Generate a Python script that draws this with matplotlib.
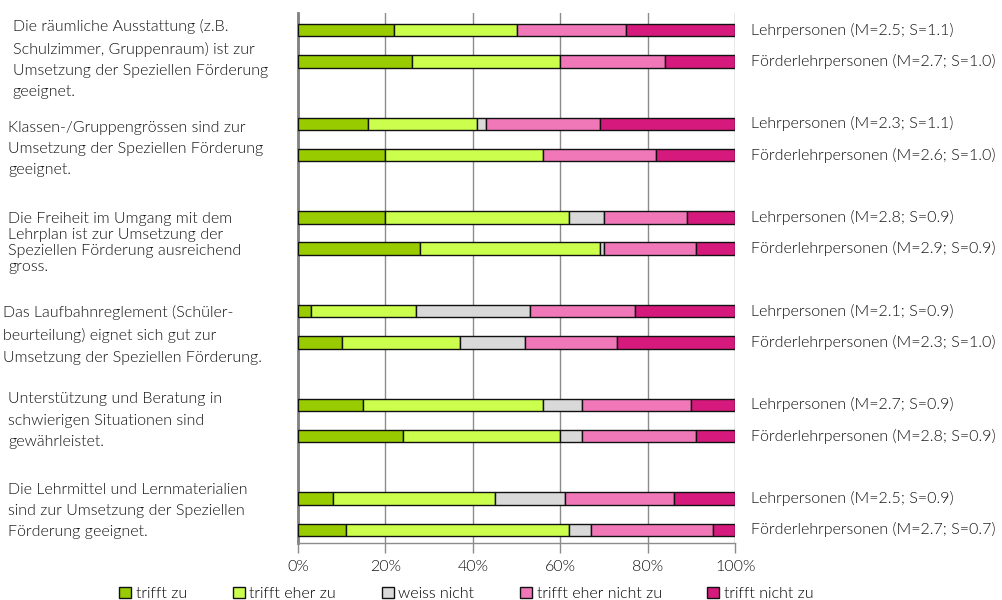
import matplotlib
matplotlib.use("Agg")
import matplotlib.pyplot as plt
from matplotlib.patches import Patch
import numpy as np

plt.rcParams['font.family'] = ['Lato', 'DejaVu Sans']
plt.rcParams['font.weight'] = 300

# Data (percent per answer category)
questions = [
    "Die räumliche Ausstattung (z.B.\nSchulzimmer, Gruppenraum) ist zur\nUmsetzung der Speziellen Förderung\ngeeignet.",
    "Klassen-/Gruppengrössen sind zur\nUmsetzung der Speziellen Förderung\ngeeignet.",
    "Die Freiheit im Umgang mit dem\nLehrplan ist zur Umsetzung der\nSpeziellen Förderung ausreichend\ngross.",
    "Das Laufbahnreglement (Schüler-\nbeurteilung) eignet sich gut zur\nUmsetzung der Speziellen Förderung.",
    "Unterstützung und Beratung in\nschwierigen Situationen sind\ngewährleistet.",
    "Die Lehrmittel und Lernmaterialien\nsind zur Umsetzung der Speziellen\nFörderung geeignet.",
]
row_labels = [
    "Lehrpersonen (M=2.5; S=1.1)", "Förderlehrpersonen (M=2.7; S=1.0)",
    "Lehrpersonen (M=2.3; S=1.1)", "Förderlehrpersonen (M=2.6; S=1.0)",
    "Lehrpersonen (M=2.8; S=0.9)", "Förderlehrpersonen (M=2.9; S=0.9)",
    "Lehrpersonen (M=2.1; S=0.9)", "Förderlehrpersonen (M=2.3; S=1.0)",
    "Lehrpersonen (M=2.7; S=0.9)", "Förderlehrpersonen (M=2.8; S=0.9)",
    "Lehrpersonen (M=2.5; S=0.9)", "Förderlehrpersonen (M=2.7; S=0.7)",
]
categories = ["trifft zu", "trifft eher zu", "weiss nicht", "trifft eher nicht zu", "trifft nicht zu"]
trifft_zu = [22, 26, 16, 20, 20, 28, 3, 10, 15, 24, 8, 11]
eher_zu = [28, 34, 25, 36, 42, 41, 24, 27, 41, 36, 37, 51]
weiss_nicht = [0, 0, 2, 0, 8, 1, 26, 15, 9, 5, 16, 5]
eher_nicht_zu = [25, 24, 26, 26, 19, 21, 24, 21, 25, 26, 25, 28]
nicht_zu = [25, 16, 31, 18, 11, 9, 23, 27, 10, 9, 14, 5]
colors = ["#99CC00", "#CCFF4D", "#D9D9D9", "#F078B8", "#D6197C"]

series = [trifft_zu, eher_zu, weiss_nicht, eher_nicht_zu, nicht_zu]

# y positions: two bars per question, gap between questions
ypos = []
for g in range(len(questions)):
    ypos += [g * 3, g * 3 + 1]
ypos = np.array(ypos, dtype=float)

fig = plt.figure(figsize=(10.03, 6.0), dpi=100)
ax = fig.add_axes([0.297, 0.095, 0.436, 0.883])

left = np.zeros(len(ypos))
for vals, col in zip(series, colors):
    vals = np.array(vals, dtype=float)
    mask = vals > 0
    ax.barh(ypos[mask], vals[mask], left=left[mask], height=0.4, color=col,
            edgecolor="#111111", linewidth=1.0, zorder=3)
    left += vals

ax.set_xlim(0, 100)
ax.set_ylim(16.42, -0.54)
ax.set_xticks(np.arange(0, 101, 20))
ax.set_xticklabels([f"{v}%" for v in range(0, 101, 20)], fontsize=11.5, color="#111111")
ax.set_yticks([])
ax.xaxis.grid(True, color="#8c8c8c", linewidth=1.0, zorder=0)
ax.tick_params(axis="x", length=7, width=1.0, color="#8c8c8c", pad=5)
for s in ["top", "right"]:
    ax.spines[s].set_visible(False)
ax.spines["left"].set_color("#808080")
ax.spines["left"].set_linewidth(2.0)
ax.spines["bottom"].set_color("#8c8c8c")
ax.spines["bottom"].set_linewidth(1.0)

# right-hand labels
for y, lab in zip(ypos, row_labels):
    ax.text(103.5, y, lab, va="center", ha="left", fontsize=11.5, color="#111111")

# left-hand question labels (layout tweaks per block)
spacing = [1.65, 1.65, 1.2, 1.65, 1.65, 1.65]
shift = [0.42, 0.3, 0.32, 0.26, 0.0, -0.1]
xoff = [-65.2, -66.3, -66.3, -67.5, -66.3, -66.3]
for g, q in enumerate(questions):
    yc = g * 3 + 0.5 + shift[g]
    ax.text(xoff[g], yc, q, va="center", ha="left", fontsize=11.5, color="#111111",
            linespacing=spacing[g], clip_on=False)

handles = [Patch(facecolor=c, edgecolor="#111111", linewidth=1.0) for c in colors]
fig.legend(handles, categories, loc="center", bbox_to_anchor=(0.465, 0.01),
           ncol=5, frameon=False, fontsize=11.5, handlelength=0.75, handleheight=0.75,
           handletextpad=0.3, columnspacing=2.85)

fig.savefig("out.png", dpi=100)
